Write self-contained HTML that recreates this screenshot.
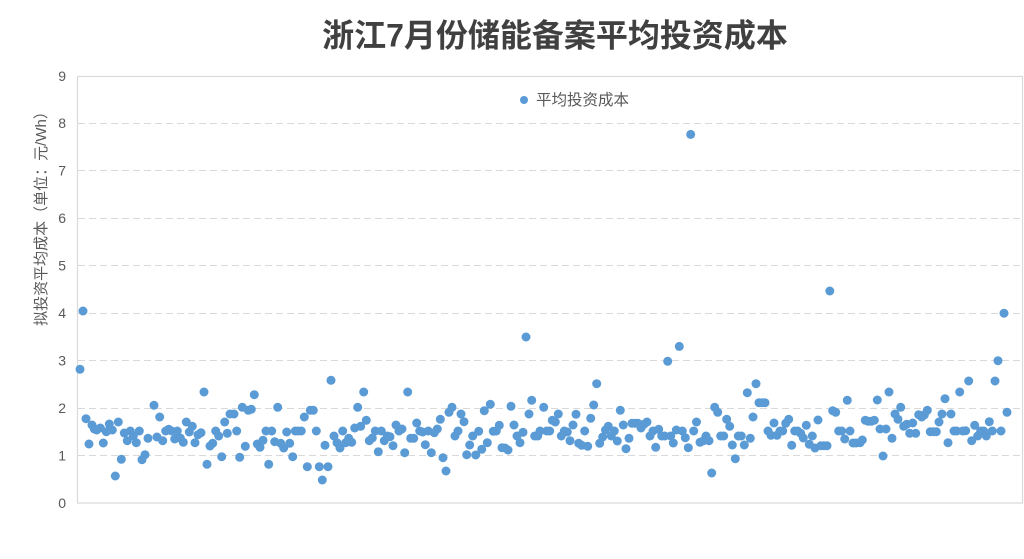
<!DOCTYPE html>
<html><head><meta charset="utf-8"><style>
html,body{margin:0;padding:0;background:#fff;}
svg{display:block;}
text{font-family:"Liberation Sans","Noto Sans CJK SC",sans-serif;}
</style></head><body>
<svg width="1024" height="559" viewBox="0 0 1024 559" xmlns="http://www.w3.org/2000/svg">
<rect x="0" y="0" width="1024" height="559" fill="#fff"/>
<text x="555" y="46.5" text-anchor="middle" font-size="32" font-weight="700" fill="#404040">浙江7月份储能备案平均投资成本</text>
<g stroke="#D9D9D9" stroke-width="1" stroke-dasharray="7 4" fill="none">
<line x1="78" x2="1022" y1="455.5" y2="455.5"/>
<line x1="78" x2="1022" y1="408.5" y2="408.5"/>
<line x1="78" x2="1022" y1="360.5" y2="360.5"/>
<line x1="78" x2="1022" y1="313.5" y2="313.5"/>
<line x1="78" x2="1022" y1="265.5" y2="265.5"/>
<line x1="78" x2="1022" y1="218.5" y2="218.5"/>
<line x1="78" x2="1022" y1="170.5" y2="170.5"/>
<line x1="78" x2="1022" y1="123.5" y2="123.5"/>
</g>
<rect x="77.5" y="76.5" width="945" height="426.5" fill="none" stroke="#D9D9D9" stroke-width="1.2"/>
<g font-size="14" fill="#595959" text-anchor="end">
<text x="66" y="508">0</text>
<text x="66" y="460.5">1</text>
<text x="66" y="413">2</text>
<text x="66" y="365.5">3</text>
<text x="66" y="318">4</text>
<text x="66" y="270.5">5</text>
<text x="66" y="223">6</text>
<text x="66" y="175.5">7</text>
<text x="66" y="128">8</text>
<text x="66" y="81">9</text>
</g>
<text transform="translate(46,215) rotate(-90)" text-anchor="middle" font-size="15" fill="#595959">拟投资平均成本（单位：元/Wh）</text>
<circle cx="524" cy="100" r="4" fill="#5B9BD5"/>
<text x="536" y="105" font-size="15.5" fill="#595959">平均投资成本</text>
<g fill="#5B9BD5">
<circle cx="80" cy="369.3" r="4.5"/><circle cx="83" cy="311" r="4.5"/><circle cx="86" cy="418.7" r="4.5"/><circle cx="89" cy="444" r="4.5"/><circle cx="92" cy="425" r="4.5"/><circle cx="94.3" cy="429" r="4.5"/><circle cx="96.7" cy="430" r="4.5"/><circle cx="100.3" cy="428" r="4.5"/><circle cx="103.3" cy="443" r="4.5"/><circle cx="106.3" cy="431.7" r="4.5"/><circle cx="109.3" cy="424" r="4.5"/><circle cx="112.3" cy="430" r="4.5"/><circle cx="115.3" cy="476" r="4.5"/><circle cx="118.3" cy="422" r="4.5"/><circle cx="121.3" cy="459.3" r="4.5"/><circle cx="124.3" cy="433" r="4.5"/><circle cx="127.3" cy="440.7" r="4.5"/><circle cx="130.3" cy="431" r="4.5"/><circle cx="133.3" cy="436" r="4.5"/><circle cx="136.3" cy="442.7" r="4.5"/><circle cx="139.3" cy="431" r="4.5"/><circle cx="142" cy="459.7" r="4.5"/><circle cx="145" cy="454.7" r="4.5"/><circle cx="148" cy="438.3" r="4.5"/><circle cx="154" cy="405.3" r="4.5"/><circle cx="157" cy="437" r="4.5"/><circle cx="159.7" cy="417" r="4.5"/><circle cx="162.7" cy="440.7" r="4.5"/><circle cx="165.7" cy="431" r="4.5"/><circle cx="168.7" cy="429.3" r="4.5"/><circle cx="171.7" cy="431" r="4.5"/><circle cx="174.7" cy="439" r="4.5"/><circle cx="177.3" cy="431" r="4.5"/><circle cx="180.3" cy="438" r="4.5"/><circle cx="183.3" cy="442.3" r="4.5"/><circle cx="186.3" cy="422" r="4.5"/><circle cx="189.3" cy="432" r="4.5"/><circle cx="192.3" cy="426.3" r="4.5"/><circle cx="195" cy="442.7" r="4.5"/><circle cx="198" cy="434.7" r="4.5"/><circle cx="201" cy="432.7" r="4.5"/><circle cx="204" cy="392" r="4.5"/><circle cx="207" cy="464.3" r="4.5"/><circle cx="210" cy="446" r="4.5"/><circle cx="212.7" cy="443.3" r="4.5"/><circle cx="215.7" cy="431" r="4.5"/><circle cx="218.7" cy="436" r="4.5"/><circle cx="221.7" cy="456.7" r="4.5"/><circle cx="224.7" cy="422" r="4.5"/><circle cx="227.3" cy="433.3" r="4.5"/><circle cx="230" cy="414" r="4.5"/>
<circle cx="234" cy="414" r="4.5"/><circle cx="236.7" cy="431" r="4.5"/><circle cx="239.7" cy="457.3" r="4.5"/><circle cx="242.3" cy="407.3" r="4.5"/><circle cx="245.3" cy="446.3" r="4.5"/><circle cx="248.3" cy="410.3" r="4.5"/><circle cx="251.3" cy="409.3" r="4.5"/><circle cx="254.3" cy="394.7" r="4.5"/><circle cx="257.3" cy="444" r="4.5"/><circle cx="260" cy="447.3" r="4.5"/><circle cx="263" cy="440.3" r="4.5"/><circle cx="266" cy="431" r="4.5"/><circle cx="268.7" cy="464.3" r="4.5"/><circle cx="271.7" cy="431" r="4.5"/><circle cx="274.7" cy="441.7" r="4.5"/><circle cx="277.7" cy="407.3" r="4.5"/><circle cx="280.7" cy="443.3" r="4.5"/><circle cx="283.7" cy="448" r="4.5"/><circle cx="286.7" cy="432" r="4.5"/><circle cx="289.7" cy="443.3" r="4.5"/><circle cx="292.7" cy="456.7" r="4.5"/><circle cx="295.3" cy="431" r="4.5"/><circle cx="298.3" cy="431" r="4.5"/><circle cx="301.3" cy="431" r="4.5"/><circle cx="304.3" cy="417" r="4.5"/><circle cx="307.3" cy="466.7" r="4.5"/><circle cx="310.3" cy="410.3" r="4.5"/><circle cx="313.3" cy="410.3" r="4.5"/><circle cx="316.3" cy="431" r="4.5"/><circle cx="319.3" cy="466.7" r="4.5"/><circle cx="322.3" cy="480" r="4.5"/><circle cx="325" cy="445.3" r="4.5"/><circle cx="328" cy="466.7" r="4.5"/><circle cx="331" cy="380.3" r="4.5"/><circle cx="334" cy="436" r="4.5"/><circle cx="337" cy="442.7" r="4.5"/><circle cx="340" cy="448" r="4.5"/><circle cx="342.7" cy="431" r="4.5"/><circle cx="345.7" cy="442.7" r="4.5"/><circle cx="348.7" cy="438.3" r="4.5"/><circle cx="351.7" cy="442.3" r="4.5"/><circle cx="354.7" cy="428" r="4.5"/><circle cx="357.7" cy="407.3" r="4.5"/><circle cx="360.7" cy="426.3" r="4.5"/><circle cx="363.7" cy="392" r="4.5"/><circle cx="366.3" cy="420.3" r="4.5"/><circle cx="369.3" cy="440.7" r="4.5"/><circle cx="372.3" cy="438" r="4.5"/><circle cx="375.3" cy="431" r="4.5"/><circle cx="378.3" cy="451.7" r="4.5"/><circle cx="381.3" cy="431" r="4.5"/><circle cx="384.3" cy="440.7" r="4.5"/>
<circle cx="387.3" cy="436" r="4.5"/><circle cx="390" cy="436.7" r="4.5"/><circle cx="393" cy="445.7" r="4.5"/><circle cx="396" cy="425" r="4.5"/><circle cx="399" cy="431" r="4.5"/><circle cx="402" cy="429" r="4.5"/><circle cx="404.7" cy="452.7" r="4.5"/><circle cx="407.7" cy="392" r="4.5"/><circle cx="410.7" cy="438.3" r="4.5"/><circle cx="413.7" cy="438.3" r="4.5"/><circle cx="416.7" cy="423" r="4.5"/><circle cx="419.7" cy="431" r="4.5"/><circle cx="422.7" cy="432" r="4.5"/><circle cx="425.3" cy="444.7" r="4.5"/><circle cx="428.3" cy="431" r="4.5"/><circle cx="431.3" cy="452.7" r="4.5"/><circle cx="434.3" cy="432.7" r="4.5"/><circle cx="437.3" cy="429" r="4.5"/><circle cx="440.3" cy="419.3" r="4.5"/><circle cx="443" cy="457.7" r="4.5"/><circle cx="446" cy="471" r="4.5"/><circle cx="449" cy="412.3" r="4.5"/><circle cx="452" cy="407.3" r="4.5"/><circle cx="455" cy="436" r="4.5"/><circle cx="458" cy="431" r="4.5"/><circle cx="461" cy="414" r="4.5"/><circle cx="464" cy="421.7" r="4.5"/><circle cx="466.7" cy="454.7" r="4.5"/><circle cx="469.7" cy="445" r="4.5"/><circle cx="472.7" cy="436" r="4.5"/><circle cx="475.7" cy="455" r="4.5"/><circle cx="478.7" cy="431.3" r="4.5"/><circle cx="481.7" cy="449.3" r="4.5"/><circle cx="484.3" cy="410.7" r="4.5"/><circle cx="487.3" cy="442.7" r="4.5"/><circle cx="490.3" cy="404.3" r="4.5"/><circle cx="493.3" cy="431.3" r="4.5"/><circle cx="496.3" cy="431" r="4.5"/><circle cx="499.3" cy="425.3" r="4.5"/><circle cx="502" cy="447.7" r="4.5"/><circle cx="505" cy="448" r="4.5"/><circle cx="508" cy="450" r="4.5"/><circle cx="511" cy="406.3" r="4.5"/><circle cx="514" cy="425" r="4.5"/><circle cx="517" cy="436" r="4.5"/><circle cx="520" cy="442.7" r="4.5"/><circle cx="523" cy="432.3" r="4.5"/><circle cx="526" cy="337" r="4.5"/><circle cx="529" cy="414" r="4.5"/><circle cx="531.7" cy="400.3" r="4.5"/><circle cx="534.7" cy="436" r="4.5"/><circle cx="537.7" cy="436" r="4.5"/><circle cx="540" cy="431" r="4.5"/>
<circle cx="543.7" cy="407.3" r="4.5"/><circle cx="546.7" cy="431" r="4.5"/><circle cx="549.7" cy="431" r="4.5"/><circle cx="552.3" cy="420.3" r="4.5"/><circle cx="555.3" cy="422" r="4.5"/><circle cx="558.3" cy="414" r="4.5"/><circle cx="561.3" cy="436" r="4.5"/><circle cx="564.3" cy="431" r="4.5"/><circle cx="567.3" cy="432" r="4.5"/><circle cx="570" cy="440.7" r="4.5"/><circle cx="573" cy="425" r="4.5"/><circle cx="576" cy="414.3" r="4.5"/><circle cx="578.7" cy="443.3" r="4.5"/><circle cx="581.7" cy="445.3" r="4.5"/><circle cx="584.7" cy="431" r="4.5"/><circle cx="587.7" cy="446.3" r="4.5"/><circle cx="590.7" cy="418.3" r="4.5"/><circle cx="593.7" cy="405" r="4.5"/><circle cx="596.7" cy="383.7" r="4.5"/><circle cx="599.7" cy="443.3" r="4.5"/><circle cx="602.7" cy="437" r="4.5"/><circle cx="605.5" cy="430" r="4.5"/><circle cx="608.3" cy="426.3" r="4.5"/><circle cx="611.3" cy="436" r="4.5"/><circle cx="614.3" cy="431" r="4.5"/><circle cx="617.3" cy="441" r="4.5"/><circle cx="620.3" cy="410.3" r="4.5"/><circle cx="623.3" cy="425" r="4.5"/><circle cx="626" cy="448.7" r="4.5"/><circle cx="629" cy="438.3" r="4.5"/><circle cx="632" cy="423.3" r="4.5"/><circle cx="635" cy="423.3" r="4.5"/><circle cx="638" cy="423.3" r="4.5"/><circle cx="641" cy="428" r="4.5"/><circle cx="644" cy="424.3" r="4.5"/><circle cx="647" cy="422" r="4.5"/><circle cx="650" cy="436" r="4.5"/><circle cx="653" cy="431" r="4.5"/><circle cx="655.7" cy="447.3" r="4.5"/><circle cx="658.7" cy="429.3" r="4.5"/><circle cx="661.7" cy="436" r="4.5"/><circle cx="664.7" cy="436" r="4.5"/><circle cx="667.7" cy="361.3" r="4.5"/><circle cx="670.7" cy="436" r="4.5"/><circle cx="673.3" cy="443" r="4.5"/><circle cx="676.3" cy="430" r="4.5"/><circle cx="679.3" cy="346.4" r="4.5"/><circle cx="682.3" cy="431" r="4.5"/><circle cx="685.3" cy="437.7" r="4.5"/><circle cx="688.3" cy="447.7" r="4.5"/><circle cx="690.7" cy="134.4" r="4.5"/><circle cx="693.7" cy="431" r="4.5"/><circle cx="696.5" cy="422" r="4.5"/>
<circle cx="700" cy="442.3" r="4.5"/><circle cx="703" cy="441" r="4.5"/><circle cx="706" cy="436" r="4.5"/><circle cx="709" cy="440.7" r="4.5"/><circle cx="711.7" cy="473" r="4.5"/><circle cx="714.7" cy="407.3" r="4.5"/><circle cx="717.7" cy="412.3" r="4.5"/><circle cx="720.7" cy="436" r="4.5"/><circle cx="723.7" cy="436" r="4.5"/><circle cx="726.7" cy="419.3" r="4.5"/><circle cx="729.7" cy="426.3" r="4.5"/><circle cx="732.3" cy="445" r="4.5"/><circle cx="735.3" cy="458.7" r="4.5"/><circle cx="738.3" cy="436" r="4.5"/><circle cx="741.3" cy="436" r="4.5"/><circle cx="744.3" cy="445" r="4.5"/><circle cx="747.3" cy="392.7" r="4.5"/><circle cx="750.3" cy="438.3" r="4.5"/><circle cx="753" cy="417" r="4.5"/><circle cx="756" cy="383.7" r="4.5"/><circle cx="759" cy="402.7" r="4.5"/><circle cx="762" cy="402.7" r="4.5"/><circle cx="765" cy="402.7" r="4.5"/><circle cx="768" cy="431" r="4.5"/><circle cx="771" cy="435.3" r="4.5"/><circle cx="774" cy="423" r="4.5"/><circle cx="777" cy="435.3" r="4.5"/><circle cx="780" cy="431" r="4.5"/><circle cx="782.7" cy="431" r="4.5"/><circle cx="785.7" cy="423.3" r="4.5"/><circle cx="788.7" cy="419.3" r="4.5"/><circle cx="791.7" cy="445.3" r="4.5"/><circle cx="794.7" cy="431" r="4.5"/><circle cx="797.7" cy="431" r="4.5"/><circle cx="800.7" cy="433.3" r="4.5"/><circle cx="803.3" cy="438" r="4.5"/><circle cx="806.3" cy="425.3" r="4.5"/><circle cx="809.3" cy="444.3" r="4.5"/><circle cx="812.3" cy="436" r="4.5"/><circle cx="815" cy="448" r="4.5"/><circle cx="818" cy="420" r="4.5"/><circle cx="821" cy="445.7" r="4.5"/><circle cx="824" cy="445.7" r="4.5"/><circle cx="827" cy="445.7" r="4.5"/><circle cx="829.8" cy="291" r="4.5"/><circle cx="832.7" cy="410.7" r="4.5"/><circle cx="835.7" cy="412.3" r="4.5"/><circle cx="838.7" cy="431" r="4.5"/><circle cx="841.7" cy="431" r="4.5"/><circle cx="844.7" cy="439" r="4.5"/><circle cx="847.3" cy="400.3" r="4.5"/><circle cx="850" cy="431" r="4.5"/><circle cx="853" cy="443" r="4.5"/><circle cx="856" cy="443" r="4.5"/>
<circle cx="860" cy="442.7" r="4.5"/><circle cx="862.3" cy="440" r="4.5"/><circle cx="865.3" cy="420.3" r="4.5"/><circle cx="868.3" cy="421.3" r="4.5"/><circle cx="871.3" cy="421.3" r="4.5"/><circle cx="874.3" cy="420.3" r="4.5"/><circle cx="877.3" cy="400" r="4.5"/><circle cx="880" cy="429" r="4.5"/><circle cx="883" cy="456" r="4.5"/><circle cx="886" cy="429" r="4.5"/><circle cx="889" cy="392" r="4.5"/><circle cx="892" cy="438.3" r="4.5"/><circle cx="895" cy="414" r="4.5"/><circle cx="898" cy="419.3" r="4.5"/><circle cx="900.7" cy="407.3" r="4.5"/><circle cx="903.7" cy="426.3" r="4.5"/><circle cx="906.7" cy="424.3" r="4.5"/><circle cx="909.7" cy="433.3" r="4.5"/><circle cx="912.7" cy="423" r="4.5"/><circle cx="915.7" cy="433.3" r="4.5"/><circle cx="918.7" cy="414.7" r="4.5"/><circle cx="921.7" cy="417" r="4.5"/><circle cx="924.3" cy="415" r="4.5"/><circle cx="927.3" cy="410.3" r="4.5"/><circle cx="930.3" cy="431.7" r="4.5"/><circle cx="933.3" cy="431.7" r="4.5"/><circle cx="936.3" cy="431.7" r="4.5"/><circle cx="939" cy="422" r="4.5"/><circle cx="942" cy="414" r="4.5"/><circle cx="945" cy="398.7" r="4.5"/><circle cx="948" cy="442.7" r="4.5"/><circle cx="951" cy="414" r="4.5"/><circle cx="954" cy="431" r="4.5"/><circle cx="956.7" cy="431" r="4.5"/><circle cx="959.7" cy="392" r="4.5"/><circle cx="962.7" cy="431" r="4.5"/><circle cx="965.7" cy="430.7" r="4.5"/><circle cx="968.7" cy="381" r="4.5"/><circle cx="971.7" cy="440.7" r="4.5"/><circle cx="974.7" cy="425.3" r="4.5"/><circle cx="977.7" cy="436" r="4.5"/><circle cx="980.7" cy="431" r="4.5"/><circle cx="983.7" cy="431" r="4.5"/><circle cx="986.3" cy="436" r="4.5"/><circle cx="989.3" cy="421.7" r="4.5"/><circle cx="992.3" cy="431" r="4.5"/><circle cx="995" cy="381" r="4.5"/><circle cx="998" cy="360.7" r="4.5"/><circle cx="1001" cy="431" r="4.5"/><circle cx="1004" cy="313.2" r="4.5"/><circle cx="1007" cy="412.3" r="4.5"/>
</g>
</svg>
</body></html>
